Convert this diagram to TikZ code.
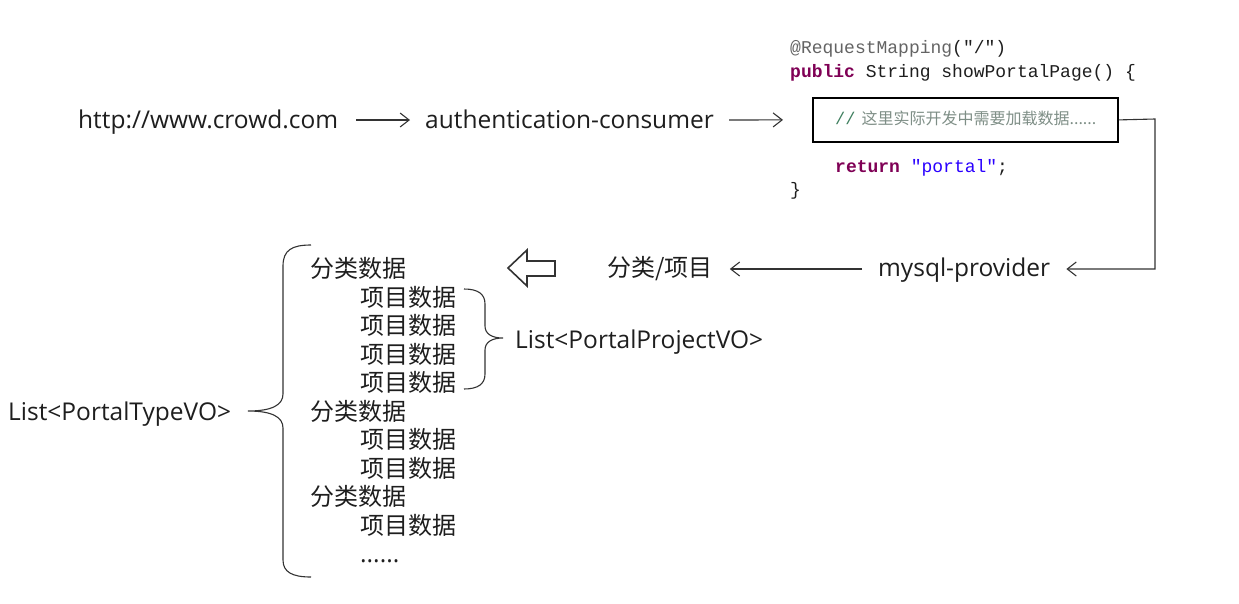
\documentclass[tikz,border=0pt]{standalone}
\usepackage{fontspec}
\setmainfont{Open Sans}
\newfontfamily\cjk{Noto Sans CJK SC}
\newfontfamily\codefont{Liberation Mono}
\usetikzlibrary{arrows.meta}
\definecolor{textcol}{HTML}{1E1E1E}
\definecolor{linecol}{HTML}{333333}
\definecolor{annot}{HTML}{646464}
\definecolor{kw}{HTML}{7F0055}
\definecolor{strcol}{HTML}{2A00FF}
\definecolor{cmt}{HTML}{3F7F5F}
\definecolor{cmtcn}{HTML}{7E8E86}
\begin{document}
\begin{tikzpicture}[x=1pt,y=-1pt,
  txt/.style={anchor=west,inner sep=0pt,text height=18pt,text depth=5pt,yshift=-2pt,font=\fontsize{24.5}{28}\selectfont,text=textcol},
  cn/.style={txt,font=\cjk\fontsize{24}{28}\selectfont},
  code/.style={anchor=west,inner sep=0pt,text height=13pt,text depth=4pt,font=\codefont\fontsize{18}{22}\selectfont,text=textcol},
  arr/.style={draw=linecol,line width=1.1pt,-{Straight Barb[length=9pt,width=14pt,line width=1.1pt]}},
  brace/.style={draw=linecol,line width=1.1pt},
]
\useasboundingbox (0,0) rectangle (1239,603);

% top row
\node[txt] (url) at (78,120) {http://www.crowd.com};
\node[txt] (auth) at (425,120) {authentication-consumer};
\draw[arr] ([xshift=18pt,yshift=2pt]url.east) -- ([xshift=-15pt,yshift=2pt]auth.west);

% code
\node[code,text=annot] (c1) at (790,49) {@RequestMapping\textcolor{textcol}{("/")}};
\node[code] (c2) at (790,73) {\textcolor{kw}{\bfseries public} String showPortalPage() \{};
\node[draw=black,line width=1.8pt,anchor=north west,minimum width=305pt,minimum height=44pt,inner sep=0pt] (cbox) at (812,97) {};
\node[code,font=\codefont\fontsize{17}{20}\selectfont,text=cmt] (cmt) at (835,120) {//\hspace{6pt}{\cjk\fontsize{16}{18}\selectfont\textcolor{cmtcn}{这里实际开发中需要加载数据......}}};
\node[code] (c4) at (835,168) {\textcolor{kw}{\bfseries return} \textcolor{strcol}{"portal"};};
\node[code] (c5) at (790,191) {\}};
\draw[arr] ([xshift=15pt,yshift=2pt]auth.east) -- ([xshift=-29pt]cbox.west);

% second row
\node[txt] (mysql) at (878,268) {mysql-provider};
\node[cn] (fl) at (607,268) {分类/项目};
\draw[arr] (cbox.east) -- (1155,119) |- ([xshift=16pt,yshift=1pt]mysql.east);
\draw[arr] ([xshift=-16pt,yshift=1pt]mysql.west) -- ([xshift=17pt,yshift=1pt]fl.east);

% hollow block arrow
\draw[draw=linecol,line width=1.6pt,line join=miter,fill=white]
  (508,268) -- (527,250) -- (527,261) -- (555,261) -- (555,276) -- (527,276) -- (527,286) -- cycle;

% list
\node[cn] (a1) at (310,269) {分类数据};
\node[cn] (b1) at (360,298) {项目数据};
\node[cn] (b2) at (360,326) {项目数据};
\node[cn] (b3) at (360,355) {项目数据};
\node[cn] (b4) at (360,383) {项目数据};
\node[cn] (a2) at (310,412) {分类数据};
\node[cn] (b5) at (360,440) {项目数据};
\node[cn] (b6) at (360,469) {项目数据};
\node[cn] (a3) at (310,497) {分类数据};
\node[cn] (b7) at (360,526) {项目数据};
\node[txt] (dots) at (360,554) {......};

% big brace
\draw[brace] (311,245) .. controls (292,245) and (283,250) .. (283,266)
  -- (283,394) .. controls (283,405) and (272,411) .. (248,411)
  .. controls (272,411) and (283,417) .. (283,428)
  -- (283,560) .. controls (283,572) and (292,577) .. (311,577);
\node[txt] (ltype) at (8,412) {List<PortalTypeVO>};

% small brace
\draw[brace] (464,289) .. controls (478,289) and (485,294) .. (485,304)
  -- (485,326) .. controls (485,334) and (492,338) .. (503,338)
  .. controls (492,338) and (485,342) .. (485,350)
  -- (485,374) .. controls (485,384) and (478,389) .. (464,389);
\node[txt] (lproj) at (515,340) {List<PortalProjectVO>};
\end{tikzpicture}
\end{document}
